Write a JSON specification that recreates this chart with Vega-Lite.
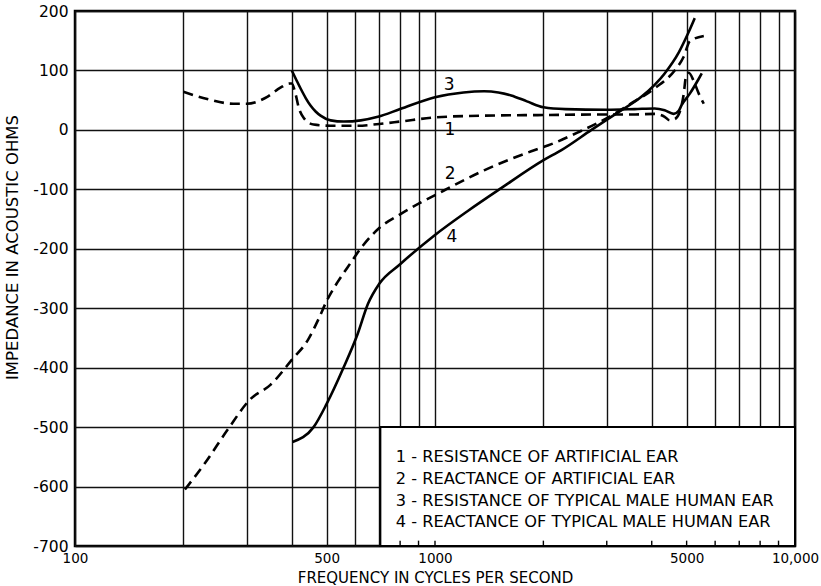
{
  "$schema": "https://vega.github.io/schema/vega-lite/v6.json",
  "width": 720,
  "height": 535,
  "autosize": {"type": "none"},
  "padding": {"left": 75, "top": 11, "right": 26, "bottom": 40},
  "background": "white",
  "config": {
    "view": {"stroke": "#000", "strokeWidth": 2.5},
    "font": "DejaVu Sans",
    "axis": {
      "labelFont": "DejaVu Sans",
      "titleFont": "DejaVu Sans",
      "labelColor": "#000",
      "titleColor": "#000",
      "titleFontWeight": "normal",
      "domain": false,
      "ticks": false,
      "gridColor": "#111",
      "gridWidth": 1.4,
      "gridOpacity": 1,
      "labelFontSize": 15.5,
      "titleFontSize": 16
    }
  },
  "datasets": {
    "box": [{"f": 705, "f2": 10000, "v": -700, "v2": -500}],
    "ticks": [{"f": 800}, {"f": 900}, {"f": 1000}, {"f": 2000}, {"f": 3000}, {"f": 4000}, {"f": 5000}, {"f": 6000}, {"f": 7000}, {"f": 8000}, {"f": 9000}],
    "legend": [
      {"f": 778, "v": -550, "t": "1 - RESISTANCE OF ARTIFICIAL EAR"},
      {"f": 778, "v": -587, "t": "2 - REACTANCE OF ARTIFICIAL EAR"},
      {"f": 778, "v": -624, "t": "3 - RESISTANCE OF TYPICAL MALE HUMAN EAR"},
      {"f": 778, "v": -660, "t": "4 - REACTANCE OF TYPICAL MALE HUMAN EAR"}
    ],
    "labels": [
      {"f": 1094, "v": 76, "t": "3"},
      {"f": 1100, "v": 0, "t": "1"},
      {"f": 1101, "v": -75, "t": "2"},
      {"f": 1114, "v": -180, "t": "4"}
    ],
    "curves": [
      {"c": "1", "f": 200, "v": 64}, {"c": "1", "f": 233, "v": 52}, {"c": "1", "f": 275, "v": 44}, {"c": "1", "f": 300, "v": 44},
      {"c": "1", "f": 343, "v": 56}, {"c": "1", "f": 372, "v": 71}, {"c": "1", "f": 395, "v": 78}, {"c": "1", "f": 400, "v": 78},
      {"c": "1", "f": 410, "v": 60}, {"c": "1", "f": 418, "v": 38}, {"c": "1", "f": 432, "v": 20}, {"c": "1", "f": 460, "v": 9},
      {"c": "1", "f": 513, "v": 7}, {"c": "1", "f": 610, "v": 7}, {"c": "1", "f": 700, "v": 10}, {"c": "1", "f": 800, "v": 14},
      {"c": "1", "f": 1000, "v": 21}, {"c": "1", "f": 1369, "v": 24}, {"c": "1", "f": 2000, "v": 25}, {"c": "1", "f": 3000, "v": 26},
      {"c": "1", "f": 3600, "v": 26}, {"c": "1", "f": 4076, "v": 27}, {"c": "1", "f": 4345, "v": 22}, {"c": "1", "f": 4487, "v": 16},
      {"c": "1", "f": 4632, "v": 18}, {"c": "1", "f": 4783, "v": 30}, {"c": "1", "f": 4907, "v": 60}, {"c": "1", "f": 4980, "v": 90},
      {"c": "1", "f": 5070, "v": 96}, {"c": "1", "f": 5233, "v": 82}, {"c": "1", "f": 5404, "v": 61}, {"c": "1", "f": 5580, "v": 44},

      {"c": "2", "f": 202, "v": -605}, {"c": "2", "f": 230, "v": -560}, {"c": "2", "f": 265, "v": -505}, {"c": "2", "f": 307, "v": -453},
      {"c": "2", "f": 349, "v": -429}, {"c": "2", "f": 400, "v": -387}, {"c": "2", "f": 445, "v": -352}, {"c": "2", "f": 475, "v": -318},
      {"c": "2", "f": 500, "v": -288}, {"c": "2", "f": 535, "v": -257}, {"c": "2", "f": 572, "v": -231}, {"c": "2", "f": 630, "v": -195},
      {"c": "2", "f": 700, "v": -165}, {"c": "2", "f": 800, "v": -142},
      {"c": "2", "f": 1059, "v": -102}, {"c": "2", "f": 1369, "v": -68}, {"c": "2", "f": 1851, "v": -36}, {"c": "2", "f": 2105, "v": -24},
      {"c": "2", "f": 2500, "v": -4}, {"c": "2", "f": 3030, "v": 21}, {"c": "2", "f": 3450, "v": 42}, {"c": "2", "f": 4076, "v": 70},
      {"c": "2", "f": 4632, "v": 100}, {"c": "2", "f": 4907, "v": 123}, {"c": "2", "f": 5103, "v": 149}, {"c": "2", "f": 5580, "v": 158},

      {"c": "3", "f": 400, "v": 100}, {"c": "3", "f": 412, "v": 84}, {"c": "3", "f": 423, "v": 70}, {"c": "3", "f": 437, "v": 54},
      {"c": "3", "f": 451, "v": 41}, {"c": "3", "f": 466, "v": 31}, {"c": "3", "f": 481, "v": 24}, {"c": "3", "f": 513, "v": 16},
      {"c": "3", "f": 558, "v": 14}, {"c": "3", "f": 622, "v": 16}, {"c": "3", "f": 694, "v": 22}, {"c": "3", "f": 800, "v": 35},
      {"c": "3", "f": 1000, "v": 55}, {"c": "3", "f": 1200, "v": 63}, {"c": "3", "f": 1369, "v": 65}, {"c": "3", "f": 1500, "v": 63},
      {"c": "3", "f": 1628, "v": 58}, {"c": "3", "f": 1800, "v": 48}, {"c": "3", "f": 2002, "v": 38}, {"c": "3", "f": 2300, "v": 35},
      {"c": "3", "f": 3000, "v": 34}, {"c": "3", "f": 3584, "v": 35}, {"c": "3", "f": 4076, "v": 36}, {"c": "3", "f": 4345, "v": 33},
      {"c": "3", "f": 4602, "v": 27}, {"c": "3", "f": 4752, "v": 32}, {"c": "3", "f": 4845, "v": 42}, {"c": "3", "f": 5103, "v": 61},
      {"c": "3", "f": 5404, "v": 86}, {"c": "3", "f": 5508, "v": 95},

      {"c": "4", "f": 402, "v": -525}, {"c": "4", "f": 460, "v": -500}, {"c": "4", "f": 500, "v": -461}, {"c": "4", "f": 558, "v": -399},
      {"c": "4", "f": 610, "v": -343}, {"c": "4", "f": 651, "v": -293}, {"c": "4", "f": 700, "v": -259}, {"c": "4", "f": 800, "v": -226},
      {"c": "4", "f": 994, "v": -178}, {"c": "4", "f": 1236, "v": -136}, {"c": "4", "f": 1527, "v": -98}, {"c": "4", "f": 2002, "v": -51},
      {"c": "4", "f": 2245, "v": -34}, {"c": "4", "f": 2720, "v": 0}, {"c": "4", "f": 3234, "v": 30}, {"c": "4", "f": 3750, "v": 56},
      {"c": "4", "f": 4345, "v": 95}, {"c": "4", "f": 4752, "v": 130}, {"c": "4", "f": 5070, "v": 165}, {"c": "4", "f": 5267, "v": 188}
    ]
  },
  "layer": [
    {
      "data": {"name": "box"},
      "mark": {"type": "rect", "fill": "white", "stroke": "#000", "strokeWidth": 2},
      "encoding": {
        "x": {
          "field": "f", "type": "quantitative",
          "scale": {"type": "log", "domain": [100, 10000], "nice": false},
          "axis": {
            "values": [100, 200, 300, 400, 500, 600, 700, 800, 900, 1000, 2000, 3000, 4000, 5000, 6000, 7000, 8000, 9000, 10000],
            "grid": true,
            "labelExpr": "datum.value == 100 ? '100' : datum.value == 500 ? '500' : datum.value == 1000 ? '1000' : datum.value == 5000 ? '5000' : datum.value == 10000 ? '10,000' : ''",
            "labelFontSize": 13.5,
            "labelBaseline": "middle",
            "labelPadding": 12,
            "labelFlush": false,
            "labelOverlap": false,
            "title": "FREQUENCY IN CYCLES PER SECOND",
            "titleFontSize": 15,
            "titleY": 31,
            "titleBaseline": "middle"
          }
        },
        "x2": {"field": "f2"},
        "y": {
          "field": "v", "type": "quantitative",
          "scale": {"domain": [-700, 200], "nice": false, "zero": false},
          "axis": {
            "values": [-700, -600, -500, -400, -300, -200, -100, 0, 100, 200],
            "grid": true,
            "labelExpr": "'' + datum.value",
            "labelFontSize": 15.5,
            "labelPadding": 7,
            "labelOverlap": false,
            "title": "IMPEDANCE IN ACOUSTIC OHMS",
            "titleFontSize": 16.5,
            "titleX": -63,
            "titleY": 236,
            "titleBaseline": "middle"
          }
        },
        "y2": {"field": "v2"}
      }
    },
    {
      "data": {"name": "ticks"},
      "mark": {"type": "rule", "stroke": "#000", "strokeWidth": 1.4},
      "encoding": {
        "x": {"field": "f", "type": "quantitative"},
        "y": {"datum": -700},
        "y2": {"datum": -691}
      }
    },
    {
      "data": {"name": "legend"},
      "mark": {"type": "text", "align": "left", "baseline": "middle", "fontSize": 16.2, "color": "#000"},
      "encoding": {
        "x": {"field": "f", "type": "quantitative"},
        "y": {"field": "v", "type": "quantitative"},
        "text": {"field": "t"}
      }
    },
    {
      "data": {"name": "curves"},
      "transform": [{"filter": "datum.c == '1' || datum.c == '2'"}],
      "mark": {"type": "line", "stroke": "#000", "strokeWidth": 2.6, "strokeDash": [10, 6], "interpolate": "monotone"},
      "encoding": {
        "x": {"field": "f", "type": "quantitative"},
        "y": {"field": "v", "type": "quantitative"},
        "detail": {"field": "c"}
      }
    },
    {
      "data": {"name": "curves"},
      "transform": [{"filter": "datum.c == '3' || datum.c == '4'"}],
      "mark": {"type": "line", "stroke": "#000", "strokeWidth": 2.6, "interpolate": "monotone"},
      "encoding": {
        "x": {"field": "f", "type": "quantitative"},
        "y": {"field": "v", "type": "quantitative"},
        "detail": {"field": "c"}
      }
    },
    {
      "data": {"name": "labels"},
      "mark": {"type": "text", "align": "center", "baseline": "middle", "fontSize": 17, "color": "#000"},
      "encoding": {
        "x": {"field": "f", "type": "quantitative"},
        "y": {"field": "v", "type": "quantitative"},
        "text": {"field": "t"}
      }
    }
  ]
}
